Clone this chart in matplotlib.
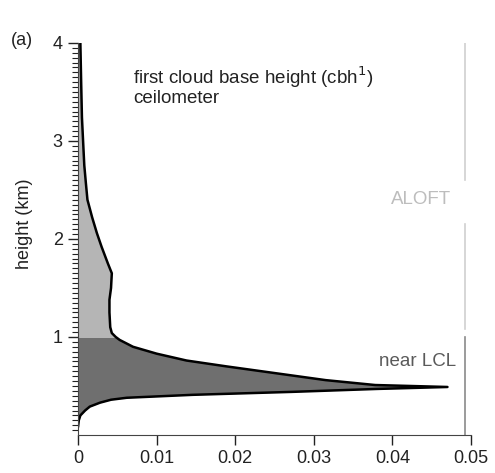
import matplotlib
matplotlib.use('Agg')
import matplotlib.pyplot as plt
import numpy as np

"""
Ceilometer first cloud base height distribution (panel a)
"""

# height (km) and frequency
height = [0.08, 0.15, 0.20, 0.25, 0.29, 0.33, 0.36, 0.38, 0.41, 0.44, 0.47, 0.49,
          0.51, 0.56, 0.63, 0.70, 0.76, 0.83, 0.90, 0.97, 1.00, 1.04, 1.10, 1.25,
          1.38, 1.50, 1.65, 1.75, 1.92, 2.06, 2.22, 2.40, 2.57, 2.75, 2.91, 3.24, 3.60, 4.00]
freq = [0.0, 0.0001, 0.0003, 0.0009, 0.0015, 0.0028, 0.0042, 0.0062, 0.0146, 0.0272, 0.0380, 0.0470,
        0.0378, 0.0315, 0.0252, 0.0189, 0.0138, 0.0100, 0.0070, 0.0053, 0.0048, 0.0043, 0.0041, 0.0040,
        0.0040, 0.0042, 0.0043, 0.0038, 0.0030, 0.0024, 0.0018, 0.0012, 0.0010, 0.0008, 0.0007, 0.0005, 0.0004, 0.0003]

lcl_top = 1.0
xticks = [0, 0.01, 0.02, 0.03, 0.04, 0.05]
xtick_labels = ['0', '0.01', '0.02', '0.03', '0.04', '0.05']
yticks = [1, 2, 3, 4]

plt.rcParams['font.family'] = ['Liberation Sans', 'DejaVu Sans']

h = np.array(height)
f = np.array(freq)

fig = plt.figure(figsize=(4.95, 4.73), dpi=100)
ax = fig.add_axes([0.1576, 0.0803, 0.794, 0.829])

ax.fill_betweenx(h, 0, f, where=h <= lcl_top, color='#6f6f6f', lw=0)
ax.fill_betweenx(h, 0, f, where=h >= lcl_top, color='#b5b5b5', lw=0)
ax.plot(f, h, color='black', lw=1.8, solid_capstyle='round')

# regime markers on the right
ax.plot([0.0492, 0.0492], [0, 1.0], color='#8a8a8a', lw=1.2)
ax.plot([0.0492, 0.0492], [1.08, 2.15], color='#d0d0d0', lw=1.2)
ax.plot([0.0492, 0.0492], [2.6, 4.0], color='#d0d0d0', lw=1.2)
ax.text(0.0436, 2.40, 'ALOFT', color='#bdbdbd', fontsize=13.5, ha='center', va='center')
ax.text(0.0481, 0.745, 'near LCL', color='#5a5a5a', fontsize=13.5, ha='right', va='center')

ax.text(0.0070, 3.65, 'first cloud base height (cbh$^1$)', color='#222222', fontsize=13.5,
        va='center', ha='left')
ax.text(0.0070, 3.43, 'ceilometer', color='#222222', fontsize=13.5, va='center', ha='left')

ax.set_xlim(0, 0.05)
ax.set_ylim(0, 4)
ax.set_xticks(xticks)
ax.set_xticklabels(xtick_labels)
ax.set_yticks(yticks)
ax.set_yticks(np.arange(0.05, 4.0, 0.05), minor=True)
ax.tick_params(axis='both', direction='out', length=7, width=1, labelsize=13,
               colors='#222222', pad=4)
ax.tick_params(axis='y', which='minor', direction='out', length=4, width=0.8, colors='#222222')
ax.set_ylabel('height (km)', fontsize=13, color='#222222')
ax.yaxis.set_label_coords(-0.114, 0.54)
for s in ['top', 'right']:
    ax.spines[s].set_visible(False)
for s in ['left', 'bottom']:
    ax.spines[s].set_color('#444444')

fig.text(0.022, 0.915, '(a)', fontsize=13, color='#222222', va='center')

plt.savefig('out.png', dpi=100)
